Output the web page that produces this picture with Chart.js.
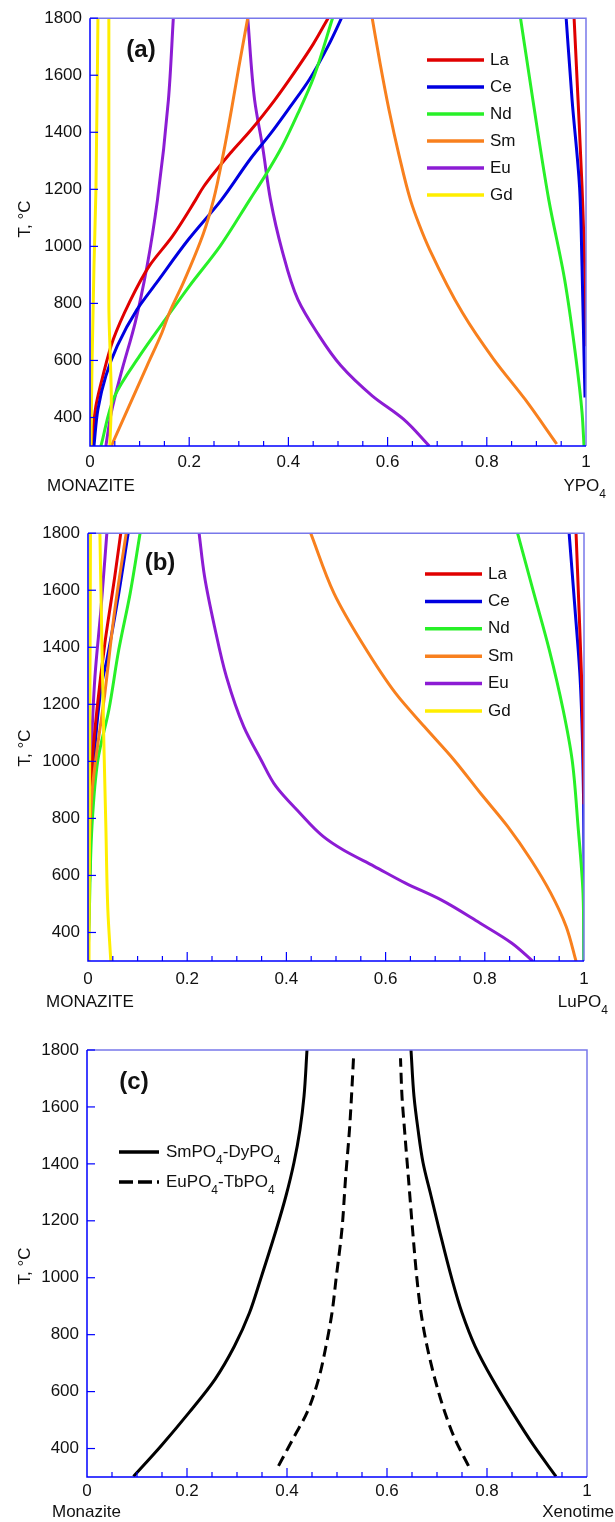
<!DOCTYPE html>
<html>
<head>
<meta charset="utf-8">
<script src="https://cdn.jsdelivr.net/npm/chart.js@4.4.0/dist/chart.umd.min.js"></script>
<style>
  body { margin: 0; background: #fff; width: 615px; height: 1522px; position: relative; overflow: hidden; }
  .panel { position: absolute; left: 0; }
</style>
</head>
<body>
<div class="panel" style="top:0"><canvas id="chart-a" width="615" height="510"></canvas></div>
<div class="panel" style="top:515px"><canvas id="chart-b" width="615" height="510"></canvas></div>
<div class="panel" style="top:1030px"><canvas id="chart-c" width="615" height="492"></canvas></div>
<script>
// axis ticks
const tempTicks = [400, 600, 800, 1000, 1200, 1400, 1600, 1800];
const fracTicks = [0, 0.2, 0.4, 0.6, 0.8, 1];
const elements = ['La', 'Ce', 'Nd', 'Sm', 'Eu', 'Gd'];

// panel (a): monazite - YPO4, T in C, x = mole fraction
const aLaMonT = [300, 348, 441, 546, 674, 802, 930, 1035, 1163, 1209, 1331, 1407, 1512, 1587, 1709, 1800];
const aLaMonX = [0.004, 0.006, 0.012, 0.026, 0.047, 0.079, 0.119, 0.166, 0.213, 0.229, 0.285, 0.324, 0.372, 0.403, 0.45, 0.48];
const aLaXenT = [650, 872, 1209, 1512, 1800];
const aLaXenX = [0.999, 0.998, 0.992, 0.984, 0.976];
const aCeMonT = [300, 429, 546, 651, 779, 872, 1023, 1163, 1308, 1395, 1488, 1587, 1709, 1800];
const aCeMonX = [0.008, 0.016, 0.032, 0.055, 0.095, 0.134, 0.198, 0.265, 0.324, 0.364, 0.403, 0.443, 0.482, 0.507];
const aCeXenT = [470, 616, 930, 1209, 1512, 1800];
const aCeXenX = [0.998, 0.996, 0.992, 0.987, 0.972, 0.96];
const aNdMonT = [300, 476, 616, 744, 860, 1000, 1163, 1256, 1349, 1465, 1593, 1800];
const aNdMonX = [0.022, 0.05, 0.1, 0.152, 0.2, 0.262, 0.322, 0.356, 0.387, 0.419, 0.451, 0.489];
const aNdXenT = [300, 418, 604, 883, 1163, 1512, 1800];
const aNdXenX = [0.996, 0.992, 0.98, 0.957, 0.925, 0.893, 0.868];
const aSmMonT = [300, 441, 581, 697, 767, 872, 1047, 1163, 1326, 1477, 1628, 1800];
const aSmMonX = [0.043, 0.079, 0.115, 0.145, 0.16, 0.188, 0.229, 0.249, 0.269, 0.285, 0.3, 0.318];
const aSmXenT = [307, 464, 604, 767, 988, 1075, 1163, 1320, 1477, 1640, 1800];
const aSmXenX = [0.941, 0.877, 0.814, 0.751, 0.685, 0.664, 0.646, 0.623, 0.603, 0.585, 0.569];
const aEuMonT = [300, 418, 557, 732, 930, 1163, 1512, 1800];
const aEuMonX = [0.032, 0.043, 0.063, 0.091, 0.115, 0.136, 0.158, 0.168];
const aEuXenT = [300, 394, 476, 581, 697, 814, 988, 1163, 1349, 1512, 1800];
const aEuXenX = [0.684, 0.632, 0.569, 0.506, 0.458, 0.419, 0.387, 0.364, 0.348, 0.332, 0.318];
const aGdMonT = [300, 581, 930, 1200, 1800];
const aGdMonX = [0.002, 0.004, 0.008, 0.012, 0.016];
const aGdXenT = [300, 464, 604, 800, 1200, 1800];
const aGdXenX = [0.04, 0.043, 0.041, 0.038, 0.038, 0.038];

// panel (b): monazite - LuPO4
const bLaMonT = [300, 421, 655, 1006, 1180, 1414, 1648, 1800];
const bLaMonX = [0.0, 0.001, 0.004, 0.009, 0.018, 0.034, 0.054, 0.066];
const bLaXenT = [850, 1000, 1297, 1531, 1800];
const bLaXenX = [1.0, 0.999, 0.995, 0.99, 0.984];
const bCeMonT = [300, 772, 1006, 1274, 1356, 1589, 1800];
const bCeMonX = [0.0, 0.006, 0.012, 0.028, 0.038, 0.062, 0.081];
const bCeXenT = [300, 655, 1063, 1297, 1531, 1800];
const bCeXenX = [1.0, 1.0, 0.997, 0.992, 0.982, 0.97];
const bNdMonT = [300, 421, 772, 1006, 1180, 1391, 1589, 1800];
const bNdMonX = [0.0, 0.002, 0.008, 0.02, 0.042, 0.062, 0.085, 0.105];
const bNdXenT = [304, 538, 772, 1006, 1180, 1391, 1589, 1800];
const bNdXenX = [1.0, 0.998, 0.988, 0.976, 0.958, 0.93, 0.899, 0.866];
const bSmMonT = [538, 889, 1239, 1531, 1800];
const bSmMonX = [0.0, 0.008, 0.034, 0.054, 0.077];
const bSmXenT = [299, 421, 538, 655, 772, 889, 1005, 1122, 1239, 1414, 1589, 1800];
const bSmXenX = [0.984, 0.964, 0.933, 0.893, 0.846, 0.791, 0.738, 0.678, 0.62, 0.553, 0.496, 0.449];
const bEuMonT = [655, 1006, 1297, 1531, 1800];
const bEuMonX = [0.001, 0.006, 0.014, 0.026, 0.038];
const bEuXenT = [299, 363, 433, 515, 573, 632, 690, 737, 819, 912, 1005, 1122, 1297, 1473, 1648, 1800];
const bEuXenX = [0.897, 0.854, 0.79, 0.711, 0.64, 0.577, 0.514, 0.474, 0.427, 0.379, 0.349, 0.314, 0.279, 0.255, 0.235, 0.224];
const bGdMonT = [300, 800, 1300, 1800];
const bGdMonX = [0.002, 0.003, 0.004, 0.005];
const bGdXenT = [299, 480, 772, 1063, 1414, 1800];
const bGdXenX = [0.046, 0.04, 0.036, 0.032, 0.028, 0.024];

// panel (c): monazite - xenotime, two joins
const cSmDyMonT = [302, 409, 526, 643, 760, 877, 994, 1172, 1288, 1405, 1521, 1637, 1800];
const cSmDyMonX = [0.093, 0.148, 0.204, 0.256, 0.295, 0.325, 0.347, 0.379, 0.398, 0.414, 0.426, 0.434, 0.44];
const cSmDyXenT = [302, 409, 526, 643, 760, 877, 994, 1172, 1288, 1405, 1521, 1637, 1800];
const cSmDyXenX = [0.938, 0.894, 0.851, 0.811, 0.776, 0.75, 0.73, 0.704, 0.688, 0.672, 0.662, 0.654, 0.648];
const cEuTbMonT = [339, 444, 526, 643, 760, 877, 994, 1172, 1347, 1521, 1637, 1771];
const cEuTbMonX = [0.383, 0.415, 0.44, 0.463, 0.478, 0.49, 0.498, 0.51, 0.517, 0.525, 0.529, 0.533];
const cEuTbXenT = [339, 433, 526, 643, 760, 877, 994, 1172, 1347, 1521, 1637, 1771];
const cEuTbXenX = [0.763, 0.736, 0.716, 0.696, 0.68, 0.668, 0.66, 0.651, 0.643, 0.635, 0.63, 0.627];

const colors = { La: '#e00000', Ce: '#0000e0', Nd: '#28f028', Sm: '#f8801e', Eu: '#8c1cd4', Gd: '#ffee00' };
const FONT = '"Liberation Sans", Arial, sans-serif';
Chart.defaults.font.family = FONT;
Chart.defaults.font.size = 17;
Chart.defaults.color = '#111';

function line(xs, ts, color, dash) {
  return {
    data: xs.map((x, i) => ({ x: x, y: ts[i] })),
    pointRadius: 0, borderWidth: 3, borderColor: color,
    borderDash: dash || [], cubicInterpolationMode: 'monotone', fill: false
  };
}

function rich(ctx, parts, x, y, align) {
  const big = '17px ' + FONT, small = '12px ' + FONT;
  let w = 0;
  parts.forEach(p => { ctx.font = p[1] ? small : big; w += ctx.measureText(p[0]).width; });
  let cx = align === 'right' ? x - w : x;
  ctx.textAlign = 'left';
  ctx.textBaseline = 'middle';
  parts.forEach(p => {
    ctx.font = p[1] ? small : big;
    ctx.fillText(p[0], cx, p[1] ? y + 9 : y);
    cx += ctx.measureText(p[0]).width;
  });
}

function decor(cfg) {
  return {
    id: 'decor',
    afterDraw(chart) {
      const ctx = chart.ctx, a = chart.chartArea, xs = chart.scales.x, ys = chart.scales.y;
      ctx.save();
      ctx.lineWidth = 1.5;
      ctx.strokeStyle = '#7878ea';
      ctx.beginPath(); ctx.moveTo(a.left, a.top); ctx.lineTo(a.right, a.top); ctx.lineTo(a.right, a.bottom); ctx.stroke();
      ctx.strokeStyle = '#0000ff';
      ctx.beginPath(); ctx.moveTo(a.left, a.top); ctx.lineTo(a.left, a.bottom); ctx.lineTo(a.right, a.bottom); ctx.stroke();
      // inward ticks
      ctx.lineWidth = 1.2;
      for (let i = 1; i < 20; i++) {
        const px = xs.getPixelForValue(i / 20);
        const len = i % 4 === 0 ? 9 : 5;
        ctx.beginPath(); ctx.moveTo(px, a.bottom); ctx.lineTo(px, a.bottom - len); ctx.stroke();
      }
      tempTicks.forEach(v => {
        const py = ys.getPixelForValue(v);
        ctx.beginPath(); ctx.moveTo(a.left, py); ctx.lineTo(a.left + 8, py); ctx.stroke();
      });
      ctx.fillStyle = '#111';
      // panel tag
      ctx.font = 'bold 24px ' + FONT;
      ctx.textAlign = 'center'; ctx.textBaseline = 'middle';
      ctx.fillText(cfg.tag, cfg.tagX, cfg.tagY);
      // y title
      ctx.save();
      ctx.translate(cfg.titleX, cfg.titleY);
      ctx.rotate(-Math.PI / 2);
      ctx.font = '17px ' + FONT;
      ctx.fillText('T, \u00B0C', 0, 0);
      ctx.restore();
      // end member labels
      rich(ctx, cfg.left, cfg.leftX, cfg.endY, 'left');
      rich(ctx, cfg.right, cfg.rightX, cfg.endY, 'right');
      // legend
      cfg.legend.forEach((item, i) => {
        const y = cfg.legY + i * cfg.legStep;
        ctx.strokeStyle = item.color;
        ctx.lineWidth = 3.5;
        ctx.setLineDash(item.dash || []);
        ctx.beginPath(); ctx.moveTo(cfg.legX0, y); ctx.lineTo(cfg.legX1, y); ctx.stroke();
        ctx.setLineDash([]);
        rich(ctx, item.parts, cfg.legText, y, 'left');
      });
      ctx.restore();
    }
  };
}

function options(pad, yWidth, xHeight, xPad) {
  return {
    responsive: false, animation: false,
    indexAxis: 'y',
    layout: { padding: pad },
    plugins: { legend: { display: false }, tooltip: { enabled: false } },
    scales: {
      x: {
        type: 'linear', min: 0, max: 1,
        grid: { display: false, drawTicks: false }, border: { display: false },
        afterBuildTicks: s => { s.ticks = fracTicks.map(v => ({ value: v })); },
        afterFit: s => { s.height = xHeight; },
        ticks: { padding: xPad, maxRotation: 0, autoSkip: false, callback: v => String(v) }
      },
      y: {
        type: 'linear', min: 300, max: 1800,
        grid: { display: false, drawTicks: false }, border: { display: false },
        afterBuildTicks: s => { s.ticks = tempTicks.map(v => ({ value: v })); },
        afterFit: s => { s.width = yWidth; },
        ticks: { padding: 8, autoSkip: false, callback: v => String(v) }
      }
    }
  };
}

const elementLegend = elements.map(e => ({ color: colors[e], parts: [[e, false]] }));

new Chart(document.getElementById('chart-a'), {
  type: 'line',
  data: {
    datasets: [
      line(aGdMonX, aGdMonT, colors.Gd), line(aGdXenX, aGdXenT, colors.Gd),
      line(aSmMonX, aSmMonT, colors.Sm), line(aSmXenX, aSmXenT, colors.Sm),
      line(aNdMonX, aNdMonT, colors.Nd), line(aNdXenX, aNdXenT, colors.Nd),
      line(aCeMonX, aCeMonT, colors.Ce), line(aCeXenX, aCeXenT, colors.Ce),
      line(aLaMonX, aLaMonT, colors.La), line(aLaXenX, aLaXenT, colors.La),
      line(aEuMonX, aEuMonT, colors.Eu), line(aEuXenX, aEuXenT, colors.Eu)
    ]
  },
  options: options({ top: 17, right: 29, left: 0, bottom: 0 }, 90, 64, 6),
  plugins: [decor({
    tag: '(a)', tagX: 141, tagY: 50, titleX: 25, titleY: 219,
    left: [['MONAZITE', false]], leftX: 47, right: [['YPO', false], ['4', true]], rightX: 606, endY: 486,
    legend: elementLegend, legX0: 427, legX1: 484, legText: 490, legY: 60, legStep: 27
  })]
});

new Chart(document.getElementById('chart-b'), {
  type: 'line',
  data: {
    datasets: [
      line(bGdMonX, bGdMonT, colors.Gd), line(bGdXenX, bGdXenT, colors.Gd),
      line(bSmMonX, bSmMonT, colors.Sm), line(bSmXenX, bSmXenT, colors.Sm),
      line(bNdMonX, bNdMonT, colors.Nd), line(bNdXenX, bNdXenT, colors.Nd),
      line(bLaMonX, bLaMonT, colors.La), line(bLaXenX, bLaXenT, colors.La),
      line(bCeMonX, bCeMonT, colors.Ce), line(bCeXenX, bCeXenT, colors.Ce),
      line(bEuMonX, bEuMonT, colors.Eu), line(bEuXenX, bEuXenT, colors.Eu)
    ]
  },
  options: options({ top: 18, right: 31, left: 0, bottom: 0 }, 88, 64, 8),
  plugins: [decor({
    tag: '(b)', tagX: 160, tagY: 48, titleX: 25, titleY: 233,
    left: [['MONAZITE', false]], leftX: 46, right: [['LuPO', false], ['4', true]], rightX: 608, endY: 487,
    legend: elementLegend, legX0: 425, legX1: 482, legText: 488, legY: 59, legStep: 27.4
  })]
});

new Chart(document.getElementById('chart-c'), {
  type: 'line',
  data: {
    datasets: [
      line(cSmDyMonX, cSmDyMonT, '#000'), line(cSmDyXenX, cSmDyXenT, '#000'),
      line(cEuTbMonX, cEuTbMonT, '#000', [11, 6]), line(cEuTbXenX, cEuTbXenT, '#000', [11, 6])
    ]
  },
  options: options({ top: 20, right: 28, left: 0, bottom: 0 }, 87, 45, 4),
  plugins: [decor({
    tag: '(c)', tagX: 134, tagY: 52, titleX: 25, titleY: 236,
    left: [['Monazite', false]], leftX: 52, right: [['Xenotime', false]], rightX: 614, endY: 482,
    legend: [
      { color: '#000', parts: [['SmPO', false], ['4', true], ['-DyPO', false], ['4', true]] },
      { color: '#000', dash: [14, 5], parts: [['EuPO', false], ['4', true], ['-TbPO', false], ['4', true]] }
    ],
    legX0: 119, legX1: 159, legText: 166, legY: 122, legStep: 30
  })]
});
</script>
</body>
</html>
